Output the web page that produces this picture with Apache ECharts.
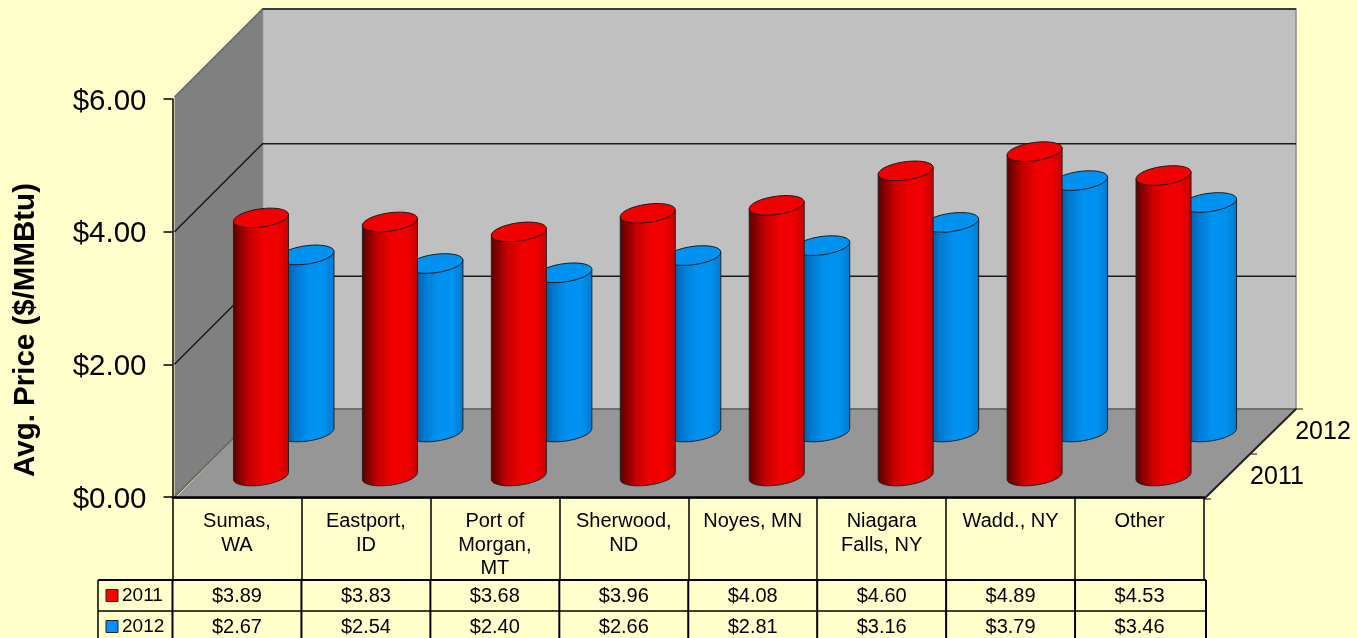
<!DOCTYPE html>
<html>
<head>
<meta charset="utf-8">
<style>html,body{margin:0;padding:0;background:#FFFFCC}#c{width:1357px;height:638px}</style>
<script src="https://cdn.jsdelivr.net/npm/echarts@6/dist/echarts.min.js"></script>
</head>
<body>
<div id="c"></div>
<script>
const categories = ['Sumas,\nWA', 'Eastport,\nID', 'Port of\nMorgan,\nMT', 'Sherwood,\nND', 'Noyes, MN', 'Niagara\nFalls, NY', 'Wadd., NY', 'Other'];
const values2011 = [3.89, 3.83, 3.68, 3.96, 4.08, 4.60, 4.89, 4.53];
const values2012 = [2.67, 2.54, 2.40, 2.66, 2.81, 3.16, 3.79, 3.46];
const seriesNames = ['2011', '2012'];
const yTicks = [0, 2, 4, 6];
const FONT = '"Liberation Sans", Arial, sans-serif';
const money = v => '$' + v.toFixed(2);

const DEPTH_X = 88, DEPTH_Y = 88;

function wallItem(params, api) {
  const c = params.coordSys;
  const y = v => api.coord([0, v])[1];
  const L = c.x + 2, R = c.x + c.width, B = y(0), T = y(6);
  const BR = R + DEPTH_X + 4;
  const ch = [];
  ch.push({type:'polygon', shape:{points:[[L+DEPTH_X,T-DEPTH_Y-2],[BR,T-DEPTH_Y-2],[BR,B-DEPTH_Y],[L+DEPTH_X,B-DEPTH_Y]]},
    style:{fill:'#C0C0C0', stroke:'#8c8c8c', lineWidth:1.5}});
  ch.push({type:'polygon', shape:{points:[[L,T-2],[L+DEPTH_X,T-DEPTH_Y-2],[L+DEPTH_X,B-DEPTH_Y],[L,B]]},
    style:{fill:'#808080'}});
  ch.push({type:'polygon', shape:{points:[[L,B+2],[L+DEPTH_X,B-DEPTH_Y],[BR,B-DEPTH_Y],[R,B+2]]},
    style:{fill:'#969696'}});
  yTicks.forEach(v => {
    const yy = y(v) - (v === 6 ? 2 : 0);
    if (v === 6) {
      ch.push({type:'line', shape:{x1:L,y1:yy,x2:L+DEPTH_X,y2:yy-DEPTH_Y}, style:{stroke:'#666', lineWidth:1.5}});
      ch.push({type:'line', shape:{x1:L+DEPTH_X,y1:yy-DEPTH_Y,x2:BR,y2:yy-DEPTH_Y}, style:{stroke:'#1a1a1a', lineWidth:1.5}});
    } else {
      const col = v === 0 ? '#606060' : '#1a1a1a';
      ch.push({type:'polyline', shape:{points:[[L,yy],[L+DEPTH_X,yy-DEPTH_Y],[BR,yy-DEPTH_Y]]},
        style:{fill:null, stroke:col, lineWidth:1.5}});
    }
  });
  // depth axis
  const fx = R, fy = B + 2, bx = BR, by = B - DEPTH_Y;
  ch.push({type:'line', shape:{x1:fx,y1:fy,x2:bx,y2:by}, style:{stroke:'#222', lineWidth:2}});
  [0, 0.5, 1].forEach(t => {
    const tx = fx + (bx-fx)*t, ty = fy + (by-fy)*t;
    ch.push({type:'line', shape:{x1:tx,y1:ty,x2:tx+7,y2:ty}, style:{stroke:'#111', lineWidth:1}});
  });
  seriesNames.forEach((n,i) => {
    const t = i === 0 ? 0.25 : 0.75;
    ch.push({type:'text', x: fx + (bx-fx)*t + 50, y: fy + (by-fy)*t + 1,
      style:{text:n, font:'25px '+FONT, fill:'#000', align:'center', verticalAlign:'middle'}});
  });
  return {type:'group', children:ch};
}

function cylinder(dx, dy, dark, mid, bright) {
  return function (params, api) {
    const p = api.coord([api.value(0), api.value(1)]);
    const base = api.coord([api.value(0), 0]);
    const cx = p[0] + dx, topY = p[1] + dy, baseY = base[1] + dy;
    const rx = 27.5, ry = 9.2, k = 0.125;
    const ell = (cy, a, b, n) => {
      const pts = [];
      for (let i = 0; i <= n; i++) {
        const t = a + (b - a) * i / n;
        const ex = rx * Math.cos(t);
        pts.push([cx + ex, cy + ry * Math.sin(t) - k * ex]);
      }
      return pts;
    };
    const body = ell(baseY, 0, Math.PI, 36).concat([[cx - rx, topY + k * rx], [cx + rx, topY - k * rx]]);
    const grad = new echarts.graphic.LinearGradient(0, 0, 1, 0, [
      {offset:0, color:dark}, {offset:0.3, color:mid}, {offset:0.55, color:bright}, {offset:0.8, color:bright}, {offset:1, color:mid}
    ]);
    return {type:'group', children:[
      {type:'polygon', shape:{points:body}, style:{fill:grad, stroke:'#222', lineWidth:1}},
      {type:'polygon', shape:{points:ell(topY, 0, Math.PI*2, 48)}, style:{fill:bright, stroke:'#1a1a1a', lineWidth:1}}
    ]};
  };
}

function tableCell(params, api) {
  const i = api.value(0);
  const x = api.coord([i, 0])[0];
  const c = params.coordSys;
  const R1 = 596, R2 = 627;
  const ch = [
    {type:'text', x:x, y:R1, style:{text:money(values2011[i]), font:'20px '+FONT, fill:'#000', align:'center', verticalAlign:'middle'}},
    {type:'text', x:x, y:R2, style:{text:money(values2012[i]), font:'20px '+FONT, fill:'#000', align:'center', verticalAlign:'middle'}}
  ];
  if (i === 0) {
    const Ltab = c.x - 74.5, Rt = c.x + c.width + 2;
    ch.push({type:'line', shape:{x1:Ltab,y1:580,x2:Rt,y2:580}, style:{stroke:'#000', lineWidth:2}});
    ch.push({type:'line', shape:{x1:Ltab,y1:611,x2:Rt,y2:611}, style:{stroke:'#000', lineWidth:1.5}});
    ch.push({type:'line', shape:{x1:Ltab,y1:580,x2:Ltab,y2:638}, style:{stroke:'#000', lineWidth:1.5}});
    for (let j = 0; j <= categories.length; j++) {
      const xx = j === categories.length ? Rt : c.x + c.width * j / categories.length;
      ch.push({type:'line', shape:{x1:xx,y1:580,x2:xx,y2:638}, style:{stroke:'#000', lineWidth:2}});
    }
    ch.push({type:'rect', shape:{x:c.x-66.5,y:589.5,width:12,height:12}, style:{fill:'#FF0000', stroke:'#222', lineWidth:1}});
    ch.push({type:'rect', shape:{x:c.x-66.5,y:620.5,width:12,height:12}, style:{fill:'#0090FF', stroke:'#222', lineWidth:1}});
    ch.push({type:'text', x:c.x-50.5, y:R1, style:{text:seriesNames[0], font:'19px '+FONT, fill:'#000', align:'left', verticalAlign:'middle'}});
    ch.push({type:'text', x:c.x-50.5, y:R2, style:{text:seriesNames[1], font:'19px '+FONT, fill:'#000', align:'left', verticalAlign:'middle'}});
  }
  return {type:'group', children:ch};
}

const chart = echarts.init(document.getElementById('c'), null, {renderer:'canvas'});
chart.setOption({
  animation:false,
  backgroundColor:'#FFFFCC',
  tooltip:{show:false},
  legend:{show:false},
  textStyle:{fontFamily:FONT},
  grid:{left:172.5, top:99, width:1031.5, height:398, containLabel:false},
  xAxis:{
    type:'category', data:categories, boundaryGap:true, offset:2,
    axisLine:{show:true, lineStyle:{color:'#000', width:2.5}},
    axisTick:{show:true, alignWithLabel:false, length:82, inside:false, lineStyle:{color:'#000', width:1.5}},
    axisLabel:{show:true, interval:0, color:'#000', fontSize:20, lineHeight:23.5, margin:11, verticalAlign:'top', fontFamily:FONT},
    splitLine:{show:false}, z:6
  },
  yAxis:{
    type:'value', min:0, max:6, interval:2,
    name:'Avg. Price ($/MMBtu)', nameLocation:'middle', nameGap:132, nameRotate:90,
    nameTextStyle:{color:'#000', fontSize:29.5, fontWeight:'bold', fontFamily:FONT, padding:[0,64,0,0]},
    axisLine:{show:true, lineStyle:{color:'#000', width:1.5}},
    axisTick:{show:true, length:9, lineStyle:{color:'#000', width:1.5}},
    axisLabel:{color:'#000', fontSize:29.5, margin:26, verticalAlign:'top', lineHeight:5, fontFamily:FONT, formatter:v => money(v)},
    splitLine:{show:false}, z:6
  },
  series:[
    {type:'custom', name:'walls', coordinateSystem:'cartesian2d', data:[[0,0]], renderItem:wallItem, silent:true, z:1},
    {type:'custom', name:seriesNames[1], coordinateSystem:'cartesian2d', data:values2012.map((v,i)=>[i,v]),
      renderItem:cylinder(69.5,-65,'#003f70','#0078d0','#0092F0'), silent:true, z:2},
    {type:'custom', name:seriesNames[0], coordinateSystem:'cartesian2d', data:values2011.map((v,i)=>[i,v]),
      renderItem:cylinder(24,-21,'#5a0000','#c80000','#F00000'), silent:true, z:3},
    {type:'custom', name:'table', coordinateSystem:'cartesian2d', data:categories.map((c,i)=>[i,0]), renderItem:tableCell, silent:true, z:7}
  ]
});
</script>
</body>
</html>
